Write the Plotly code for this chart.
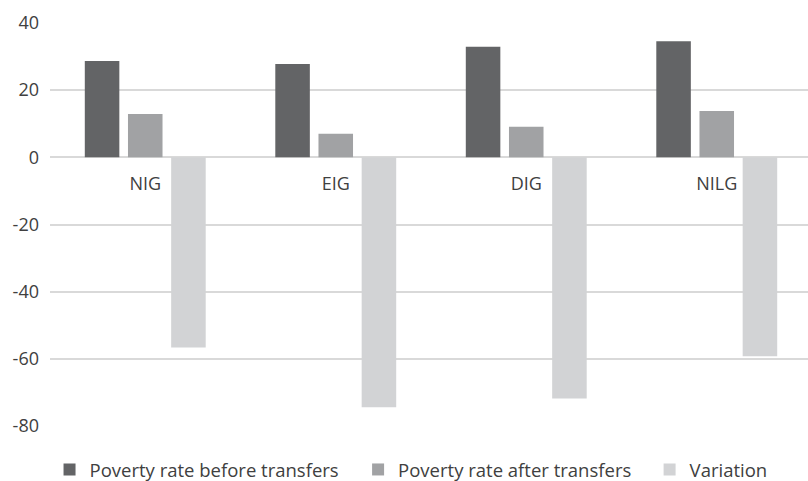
import plotly.graph_objects as go

categories = ["NIG", "EIG", "DIG", "NILG"]
before = [28.7, 27.8, 32.9, 34.6]
after = [12.9, 7.0, 9.1, 13.8]
variation = [-56.6, -74.4, -71.8, -59.2]
series_names = ["Poverty rate before transfers", "Poverty rate after transfers", "Variation"]
colors = ["#636466", "#a1a2a4", "#d2d3d5"]
y_tick_values = [-80, -60, -40, -20, 0, 20, 40]
y_tick_labels = ["-80", "-60", "-40", "-20", "0", "20", "40"]

legend_ids = ["legend", "legend2", "legend3"]
legend_x = [0.061, 0.441, 0.800]

fig = go.Figure()
for name, vals, c, lg in zip(series_names, [before, after, variation], colors, legend_ids):
    fig.add_trace(go.Bar(x=categories, y=vals, name=name, marker_color=c,
                         marker_line_width=0, legend=lg))

font_family = "Open Sans"
legend_common = dict(orientation="h", xref="container", yref="container",
                     xanchor="left", y=0.023, yanchor="middle",
                     font=dict(family=font_family, size=18.5, color="#404040"))
fig.update_layout(
    width=812, height=481,
    margin=dict(l=50, r=0, t=23, b=54.5),
    plot_bgcolor="white", paper_bgcolor="white",
    barmode="group", bargap=0.32, bargroupgap=0.2,
    font=dict(family=font_family, size=18, color="#404040"),
    showlegend=True,
    yaxis=dict(range=[-80, 40], tickvals=y_tick_values, ticktext=y_tick_labels,
               showgrid=True, gridcolor="#d9d9d9", gridwidth=1.5,
               zeroline=True, zerolinecolor="#d9d9d9", zerolinewidth=1.5,
               showline=False, ticks="", ticklabelstandoff=10, automargin=False,
               tickfont=dict(size=18, color="#404040")),
    xaxis=dict(anchor="free", position=80 / 120, showgrid=False, showline=False, zeroline=False,
               ticks="", ticklabelstandoff=14, automargin=False,
               tickfont=dict(size=18, color="#404040")),
)
fig.update_layout({lg: dict(legend_common, x=lx) for lg, lx in zip(legend_ids, legend_x)})
fig.write_html("out.html", config={"displayModeBar": False},
               post_script="document.body.style.margin='0';document.body.style.overflow='hidden';")
